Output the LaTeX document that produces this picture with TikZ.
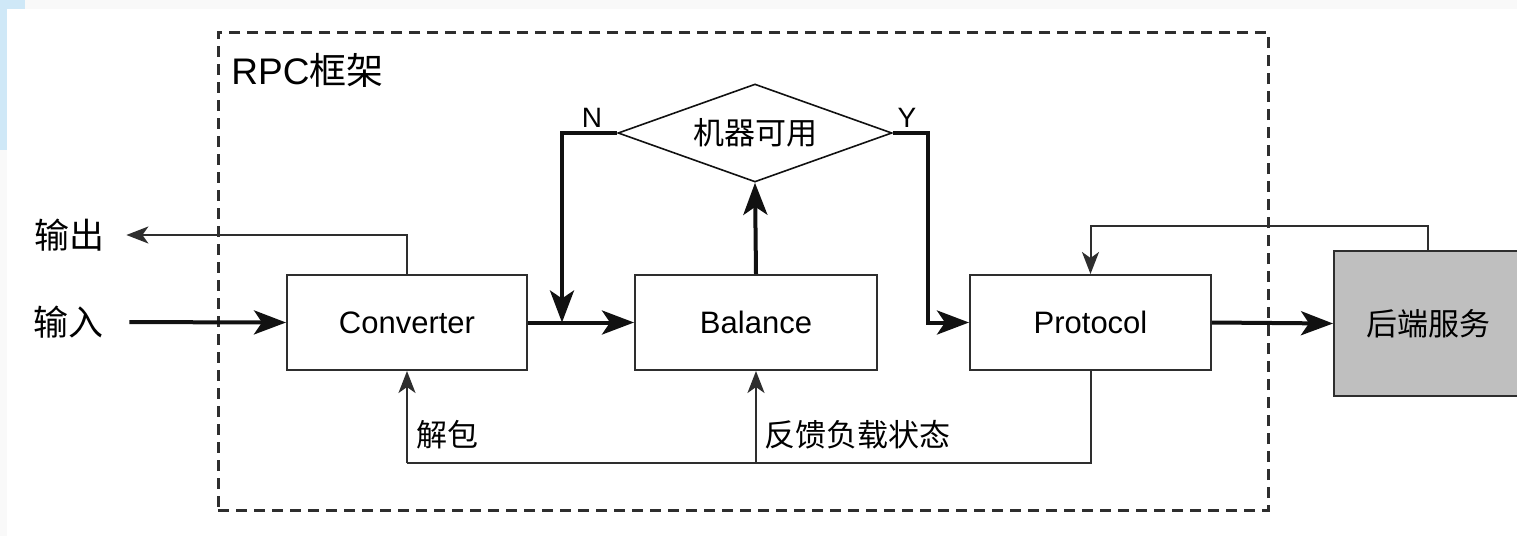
\documentclass[tikz,border=0pt]{standalone}
\usepackage{fontspec}
\setmainfont{Liberation Sans}
\newfontfamily\cjk{Noto Sans CJK SC}
\usetikzlibrary{shapes.geometric,arrows.meta}
\definecolor{lc}{HTML}{111111}
\definecolor{bc}{HTML}{2E2E2E}
\definecolor{gfill}{HTML}{BFBFBF}
\definecolor{lblue}{HTML}{CFE8F7}
\definecolor{lgray}{HTML}{F9F9F9}
\begin{document}
\begin{tikzpicture}[x=0.5pt,y=-0.5pt,
  box/.style={draw=bc,line width=1pt,fill=white,minimum width=120pt,minimum height=47.5pt,inner sep=0pt,font=\fontsize{15.5}{18}\selectfont},
  lbl/.style={inner sep=0pt,font=\fontsize{15.5}{18}\selectfont\cjk},
  biglbl/.style={inner sep=0pt,font=\fontsize{18.5}{21}\selectfont},
  yn/.style={inner sep=0pt,font=\fontsize{14}{16}\selectfont},
  thickarr/.style={draw=lc,line width=2pt,-{Stealth[length=16pt,width=12pt,inset=4pt]}},
  thickline/.style={draw=lc,line width=2pt},
  thinarr/.style={draw=bc,line width=1pt,-{Stealth[length=11pt,width=8.5pt,inset=3pt]}},
  thinline/.style={draw=bc,line width=1pt},
  frame/.style={draw=bc,line width=1.5pt,dash pattern=on 5.5pt off 3.5pt,minimum width=525pt,minimum height=239pt,inner sep=0pt}
]
\useasboundingbox (0,0) rectangle (1517,536);
% background
\fill[lgray] (0,0) rectangle (1517,536);
\fill[lblue] (0,0) rectangle (7,150);
\fill[lblue] (0,0) rectangle (25,9);
\fill[white] (7,9) rectangle (1517,536);

% frame
\node[frame] (frm) at (743,271) {};
\node[biglbl,anchor=west] (title) at (231,70) {RPC{\cjk 框架}};

% boxes
\node[box] (conv) at (407,322.5) {Converter};
\node[box,minimum width=121pt] (bal) at (756,322.5) {Balance};
\node[box,minimum width=120.5pt] (prot) at (1090.5,322.5) {Protocol};
\node[box,fill=gfill,minimum width=94pt,minimum height=72.5pt,font=\fontsize{15.5}{18}\selectfont\cjk] (back) at (1428,323.5) {后端服务};
\node[diamond,draw=lc,line width=0.8pt,fill=white,aspect=2.8,minimum width=137pt,minimum height=49pt,inner sep=0pt,font=\fontsize{15.5}{18}\selectfont\cjk] (dia) at (755,133) {机器可用};

% side labels
\node[biglbl,font=\fontsize{17.5}{20}\selectfont\cjk] (in) at (68,322) {输入};
\node[biglbl,font=\fontsize{17.5}{20}\selectfont\cjk] (out) at (69,235) {输出};
\node[yn] (nlab) at (592,118) {N};
\node[yn] (ylab) at (907,118) {Y};
\node[lbl,anchor=west] (jb) at (416,435) {解包};
\node[lbl,anchor=west] (fk) at (764,435) {反馈负载状态};

% helper coordinates
\coordinate (nj) at (562,322.5);
\coordinate (yj) at (928,322.5);
\coordinate (cb) at (407,463);
\coordinate (bb) at (756,463);
\coordinate (pb) at (1090.5,463);

% connectors
\draw[thickarr,shorten <=13pt] (in.east) -- (conv.west);
\draw[thinarr,shorten >=11pt] (conv.north) |- (out.east);
\draw[thickarr] (conv.east) -- (bal.west);
\draw[thickarr] (bal.north) -- (dia.south);
\draw[thickarr] (dia.west) -| (nj);
\draw[thickarr] (dia.east) -| (yj) -- (prot.west);
\draw[thickarr] (prot.east) -- (back.west);
\draw[thinarr] (back.north) -- ++(0,-24) -| (prot.north);
\draw[thinline] (prot.south) -- (pb) -- (cb);
\draw[thinarr] (cb) -- (conv.south);
\draw[thinarr] (bb) -- (bal.south);
\end{tikzpicture}
\end{document}
